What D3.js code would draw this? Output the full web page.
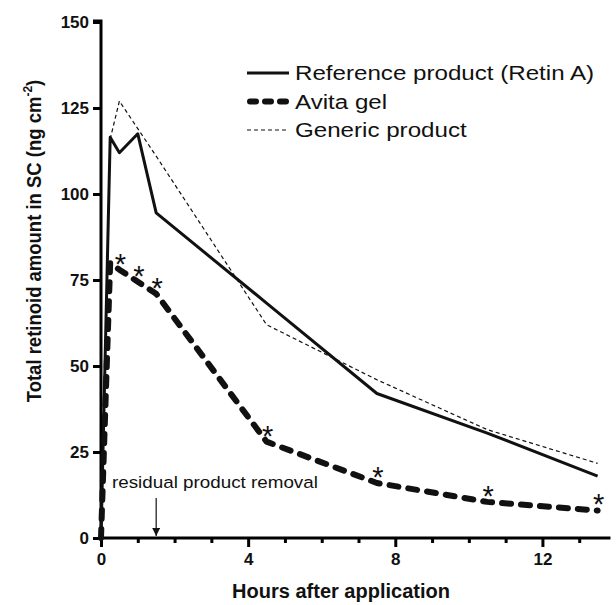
<!DOCTYPE html>
<html>
<head>
<meta charset="utf-8">
<script src="https://cdn.jsdelivr.net/npm/d3@7"></script>
<style>
  body { margin: 0; background: #fff; }
  text { font-family: "Liberation Sans", Arial, Helvetica, sans-serif; fill: #111; }
</style>
</head>
<body>
<script>
'use strict';

// hours after application
const times = [0, 0.25, 0.5, 1, 1.5, 4.5, 7.5, 10.5, 13.5];
const reference = [0, 116.5, 112, 117.5, 94.5, 68.3, 42, 30.5, 18];
const avita = [0, 80, 78, 74.5, 71, 28, 16, 10.5, 8];
const generic = [0, 116, 127, 119, 111, 62, 46, 31.5, 21.7];
// points of Avita gel marked as significantly different
const starTimes = [0.5, 1, 1.5, 4.5, 7.5, 10.5, 13.5];
const yTicks = [0, 25, 50, 75, 100, 125, 150];
const xMajor = [0, 4, 8, 12];
const xMinor = [1, 2, 3, 5, 6, 7, 9, 10, 11, 13];
const legendNames = ['Reference product (Retin A)', 'Avita gel', 'Generic product'];
const removalTime = 1.5;

const width = 616, height = 605;
const x = d3.scaleLinear().domain([0, 14]).range([101, 616]);
const y = d3.scaleLinear().domain([0, 150]).range([538, 22]);

const svg = d3.select('body').append('svg')
  .attr('width', width)
  .attr('height', height);

const series = [
  { name: legendNames[0], values: reference,
    style: { width: 3, dash: null, cap: 'butt' } },
  { name: legendNames[1], values: avita,
    style: { width: 6, dash: '9,10', cap: 'round' } },
  { name: legendNames[2], values: generic,
    style: { width: 1.2, dash: '4,3', cap: 'butt' } },
];

// axes
const yAxis = d3.axisLeft(y).tickValues(yTicks).tickSize(8).tickPadding(4);
const gy = svg.append('g').attr('transform', `translate(${x(0)},0)`).call(yAxis);
gy.select('.domain').attr('stroke-width', 3).attr('d', `M0,${y(0)}V${y(150) - 1}H-8`);
gy.selectAll('.tick line').attr('stroke-width', 3);
gy.selectAll('.tick text')
  .style('font-size', '17px').style('font-weight', 'bold')
  .attr('dy', '0.35em');

const gxMinor = svg.append('g').attr('transform', `translate(0,${y(0)})`)
  .call(d3.axisBottom(x).tickValues(xMinor).tickSize(5).tickFormat(''));
gxMinor.select('.domain').remove();
gxMinor.selectAll('.tick line').attr('stroke-width', 3);

const gx = svg.append('g').attr('transform', `translate(0,${y(0)})`)
  .call(d3.axisBottom(x).tickValues(xMajor).tickSize(9).tickPadding(6));
gx.select('.domain').attr('stroke-width', 3).attr('d', `M${x(0) - 1.5},0H${x(13.85)}`);
gx.selectAll('.tick line').attr('stroke-width', 3);
gx.selectAll('.tick text')
  .style('font-size', '17px').style('font-weight', 'bold');

// axis titles
svg.append('text')
  .attr('x', 341).attr('y', 598)
  .attr('text-anchor', 'middle')
  .style('font-size', '20px').style('font-weight', 'bold')
  .text('Hours after application');

const yTitle = svg.append('text')
  .attr('transform', 'translate(41,241) rotate(-90) scale(1,1.12)')
  .attr('text-anchor', 'middle')
  .style('font-size', '18.5px').style('font-weight', 'bold');
yTitle.append('tspan').text('Total retinoid amount in SC (ng cm');
yTitle.append('tspan').attr('dy', -8).style('font-size', '12px').text('-2');
yTitle.append('tspan').attr('dy', 8).text(')');

// lines
for (const s of series) {
  const line = d3.line()
    .x((d, i) => x(times[i]))
    .y((d) => y(d));
  svg.append('path')
    .datum(s.values)
    .attr('fill', 'none')
    .attr('stroke', '#111')
    .attr('stroke-width', s.style.width)
    .attr('stroke-dasharray', s.style.dash)
    .attr('stroke-linecap', s.style.cap)
    .attr('stroke-linejoin', 'round')
    .attr('d', line);
}

// asterisks
svg.selectAll('.star')
  .data(starTimes)
  .enter().append('text')
  .attr('class', 'star')
  .attr('x', (d) => x(d) + 1)
  .attr('y', (d) => y(avita[times.indexOf(d)]) + 4)
  .attr('text-anchor', 'middle')
  .style('font-size', '29px')
  .text('*');

// residual product removal annotation
svg.append('text')
  .attr('transform', 'translate(112,488) scale(1.14,1)')
  .style('font-size', '16.5px')
  .text('residual product removal');
svg.append('defs').append('marker')
  .attr('id', 'arrow')
  .attr('viewBox', '0 0 10 10')
  .attr('refX', 10).attr('refY', 5)
  .attr('markerWidth', 9).attr('markerHeight', 8)
  .attr('markerUnits', 'userSpaceOnUse')
  .attr('orient', 'auto')
  .append('path').attr('d', 'M0,0L10,5L0,10Z').attr('fill', '#111');
svg.append('line')
  .attr('x1', x(removalTime)).attr('x2', x(removalTime))
  .attr('y1', 498).attr('y2', y(0) - 2)
  .attr('stroke', '#111').attr('stroke-width', 1.2)
  .attr('marker-end', 'url(#arrow)');

// legend
const legend = svg.append('g').attr('transform', 'translate(247,73)');
series.forEach((s, i) => {
  const row = legend.append('g').attr('transform', `translate(0,${i * 28.5})`);
  row.append('line')
    .attr('x1', s.style.cap === 'round' ? 3 : 0).attr('x2', s.style.cap === 'round' ? 39 : 42)
    .attr('stroke', '#111')
    .attr('stroke-width', s.style.width)
    .attr('stroke-dasharray', s.style.cap === 'round' ? '6,9' : s.style.dash)
    .attr('stroke-linecap', s.style.cap);
  row.append('text')
    .attr('transform', 'translate(48,0) scale(1.15,1)')
    .attr('dy', '0.35em')
    .style('font-size', '21px')
    .text(s.name);
});
</script>
</body>
</html>
